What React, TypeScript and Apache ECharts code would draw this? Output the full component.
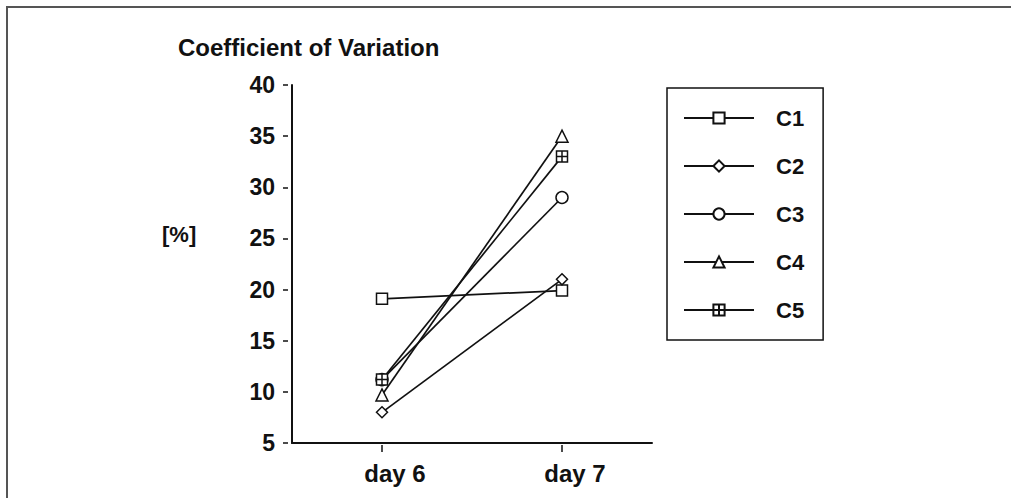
import React, { useEffect, useRef } from "react";
import * as echarts from "echarts";

const categories = ["day 6", "day 7"];
const seriesNames = ["C1", "C2", "C3", "C4", "C5"];
const c1 = [19.1, 19.9];
const c2 = [8.0, 21.0];
const c3 = [11.2, 29.0];
const c4 = [9.7, 35.0];
const c5 = [11.2, 33.0];
const yTicks = [5, 10, 15, 20, 25, 30, 35, 40];

const FONT = "'Liberation Sans', Arial, sans-serif";
const INK = "#111";
const CROSS_SQUARE = "path://M0,0L10,0L10,10L0,10Z M5,0L5,10 M0,5L10,5";

export default function App() {
  const ref = useRef<HTMLDivElement>(null);
  useEffect(() => {
    document.body.style.margin = "0";
    const chart = echarts.init(ref.current!, undefined, { renderer: "svg" });
    const values = [c1, c2, c3, c4, c5];
    const symbols = ["rect", "diamond", "circle", "triangle", CROSS_SQUARE];
    const sizes = [11, 11, 12, 12, 11];
    const series = seriesNames.map((name, i) => ({
      name,
      type: "line",
      data: values[i],
      xAxisIndex: 0,
      yAxisIndex: 0,
      symbol: symbols[i],
      symbolSize: sizes[i],
      showAllSymbol: true,
      lineStyle: { color: INK, width: 1.7 },
      itemStyle: { color: "#fff", borderColor: INK, borderWidth: 1.5 },
      emphasis: { disabled: true },
      z: 3,
    }));
    const grid = { left: 292, top: 85, bottom: 55, right: 359 };
    chart.setOption({
      animation: false,
      grid,
      xAxis: [
        {
          type: "category",
          data: categories,
          boundaryGap: true,
          axisLine: { show: true, lineStyle: { color: INK, width: 2 } },
          axisTick: { show: false },
          axisLabel: { show: false },
          splitLine: { show: false },
        },
        {
          type: "category",
          data: categories,
          boundaryGap: true,
          position: "bottom",
          offset: 2,
          axisLine: { show: false },
          axisTick: { show: true, alignWithLabel: true, length: 7, lineStyle: { color: INK, width: 1.5 } },
          axisLabel: {
            show: true,
            margin: 16,
            color: INK,
            fontSize: 24,
            fontWeight: "bold",
            fontFamily: FONT,
            padding: [0, 0, 0, 26],
          },
          splitLine: { show: false },
        },
      ],
      yAxis: [
        {
          type: "value",
          min: yTicks[0],
          max: yTicks[yTicks.length - 1],
          interval: 5,
          axisLine: { show: true, lineStyle: { color: INK, width: 2 } },
          axisTick: { show: false },
          axisLabel: { show: false },
          splitLine: { show: false },
        },
        {
          type: "value",
          position: "left",
          offset: 4,
          min: yTicks[0],
          max: yTicks[yTicks.length - 1],
          interval: 5,
          axisLine: { show: false },
          axisTick: { show: true, length: 5, lineStyle: { color: INK, width: 1.5 } },
          axisLabel: { show: true, margin: 13, color: INK, fontSize: 23, fontWeight: "bold", fontFamily: FONT },
          splitLine: { show: false },
        },
      ],
      legend: {
        data: seriesNames,
        orient: "vertical",
        left: 667,
        top: 88,
        padding: [19, 19, 19, 16],
        itemWidth: 70,
        itemHeight: 14,
        itemGap: 26,
        borderColor: INK,
        borderWidth: 1.5,
        selectedMode: false,
        textStyle: {
          color: INK,
          fontSize: 22,
          fontWeight: "bold",
          fontFamily: FONT,
          lineHeight: 21,
          padding: [0, 0, 0, 17],
        },
      },
      graphic: [
        {
          type: "line",
          shape: { x1: 7, y1: 6, x2: 7, y2: 498 },
          style: { stroke: "#555", lineWidth: 2 },
        },
        {
          type: "line",
          shape: { x1: 6, y1: 7, x2: 1011, y2: 7 },
          style: { stroke: "#555", lineWidth: 2 },
        },
        {
          type: "text",
          x: 178,
          y: 47,
          style: {
            text: "Coefficient of Variation",
            fill: INK,
            fontSize: 24,
            fontWeight: "bold",
            fontFamily: FONT,
            textVerticalAlign: "middle",
          },
        },
        {
          type: "text",
          x: 162,
          y: 234,
          style: {
            text: "[%]",
            fill: INK,
            fontSize: 22,
            fontWeight: "bold",
            fontFamily: FONT,
            textVerticalAlign: "middle",
          },
        },
      ],
      series,
    });
    return () => chart.dispose();
  }, []);
  return <div ref={ref} style={{ width: 1011, height: 498 }} />;
}
